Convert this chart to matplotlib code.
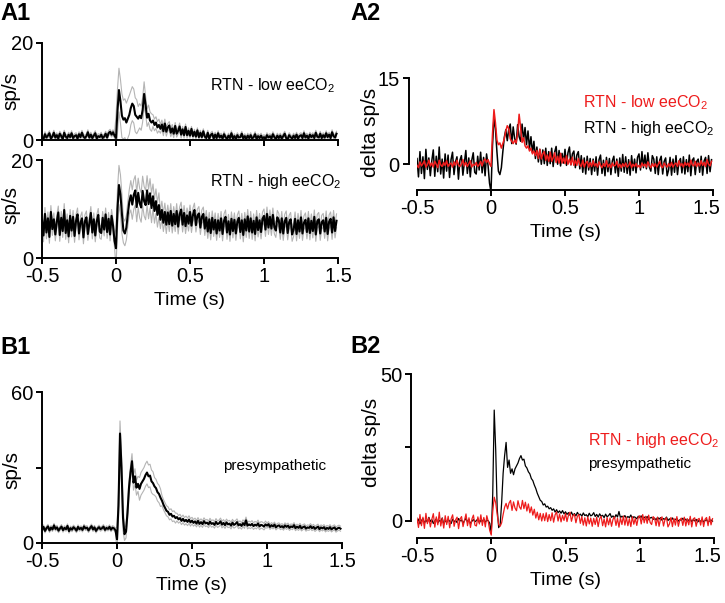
import numpy as np
import matplotlib
matplotlib.use("Agg")
import matplotlib.pyplot as plt
from matplotlib.transforms import ScaledTranslation

plt.rcParams['font.family'] = ['Liberation Sans', 'DejaVu Sans']
plt.rcParams['mathtext.fontset'] = 'custom'
plt.rcParams['mathtext.rm'] = 'Liberation Sans'
plt.rcParams['mathtext.default'] = 'regular'

# time bins (10 ms) from -0.5 s
t = np.arange(200) * 0.01 - 0.5

# A1 - RTN low eeCO2, mean rate (sp/s)
rtn_low = [
    0.6, 0.2, 1.2, 0.5, 0.9, 1.4, 0.3, 0.7, 1.5, 0.5,
    1.0, 0.3, 1.3, 0.8, 0.2, 1.5, 0.7, 0.4, 1.1, 0.6,
    1.4, 0.4, 0.8, 1.0, 0.3, 1.2, 0.6, 1.5, 0.7, 0.4,
    0.8, 1.6, 0.5, 1.1, 0.4, 0.9, 1.4, 0.3, 0.8, 0.6,
    1.1, 0.4, 0.7, 1.3, 0.5, 1.4, 1.7, 1.1, 1.6, 0.9,
    0.4, 6.0, 10.3, 8.0, 5.0, 4.2, 4.5, 3.6, 4.4, 5.2,
    6.6, 7.5, 7.0, 5.2, 4.8, 4.4, 5.0, 4.5, 6.2, 9.5,
    7.2, 4.6, 5.4, 4.0, 3.6, 4.0, 3.1, 3.6, 2.6, 3.1,
    2.3, 3.2, 1.8, 3.4, 1.7, 2.6, 3.0, 1.5, 2.4, 1.3,
    2.9, 1.3, 1.9, 2.8, 1.1, 2.2, 1.0, 2.7, 1.0, 1.9,
    0.9, 2.3, 0.8, 1.7, 0.7, 2.0, 0.6, 1.5, 0.6, 1.8,
    0.7, 0.4, 1.5, 0.3, 1.0, 1.3, 0.3, 1.1, 0.4, 1.4,
    0.5, 0.9, 0.3, 1.2, 0.6, 0.2, 0.9, 0.4, 1.4, 0.3,
    0.8, 0.2, 1.0, 0.5, 0.6, 1.3, 0.3, 0.8, 0.2, 0.9,
    0.4, 1.0, 0.3, 0.6, 1.2, 0.2, 0.8, 0.4, 0.9, 0.3,
    0.6, 0.2, 1.0, 0.5, 0.8, 0.3, 1.2, 0.6, 0.2, 0.9,
    0.4, 0.9, 0.3, 0.8, 1.3, 0.4, 0.2, 1.0, 0.6, 0.3,
    0.9, 0.4, 1.1, 0.3, 0.8, 1.0, 0.4, 1.4, 0.5, 0.9,
    0.3, 1.1, 0.6, 1.0, 0.4, 1.5, 0.7, 0.5, 1.3, 0.4,
    1.0, 0.5, 1.4, 0.6, 1.1, 0.4, 1.6, 0.8, 0.5, 1.3,
]
# SEM per 50 ms
rtn_low_sem = [0.5] * 10 + [4.5, 4.0, 3.5, 2.5, 1.8, 1.2, 0.9, 0.8, 0.7, 0.6] + [0.5] * 20

# A1 - RTN high eeCO2
rtn_high = [
    7.8, 4.6, 9.0, 5.2, 8.1, 4.3, 9.4, 5.9, 7.9, 4.8,
    7.4, 9.3, 4.7, 8.2, 5.5, 9.8, 5.1, 7.7, 4.4, 8.6,
    5.6, 8.4, 4.5, 7.6, 8.9, 5.0, 7.2, 8.1, 4.2, 7.5,
    8.3, 4.9, 7.0, 9.2, 5.2, 7.9, 4.6, 7.5, 8.8, 5.4,
    5.1, 8.2, 5.8, 8.9, 5.3, 8.0, 4.8, 8.6, 6.6, 3.5,
    2.0, 10.0, 14.9, 13.0, 9.0, 5.6, 5.0, 6.2, 9.0, 11.5,
    12.8, 10.9, 12.9, 13.8, 10.4, 13.3, 11.2, 10.3, 13.7, 11.6,
    10.8, 13.8, 11.0, 13.2, 10.2, 12.6, 9.6, 11.6, 8.8, 10.8,
    7.8, 9.8, 7.2, 9.4, 6.8, 9.3, 6.9, 9.6, 6.6, 9.0,
    6.9, 9.6, 6.4, 8.9, 9.9, 6.8, 9.2, 6.5, 8.7, 7.0,
    9.4, 6.6, 8.8, 9.8, 6.7, 8.6, 9.1, 6.2, 8.4, 9.0,
    6.0, 8.3, 5.4, 7.9, 5.1, 8.2, 5.8, 7.8, 5.0, 7.7,
    5.6, 8.1, 4.9, 7.6, 8.4, 5.2, 7.5, 4.8, 8.0, 5.5,
    7.8, 5.0, 7.4, 8.2, 5.3, 7.7, 4.7, 7.9, 5.6, 8.5,
    5.4, 8.1, 5.2, 7.6, 4.9, 8.3, 5.7, 7.7, 5.3, 8.0,
    8.6, 5.8, 9.0, 6.2, 8.4, 6.0, 8.8, 6.3, 5.6, 8.3,
    7.7, 5.2, 8.1, 5.0, 7.5, 8.2, 5.1, 7.3, 7.9, 4.8,
    5.8, 8.0, 4.9, 7.7, 5.4, 8.3, 5.0, 7.2, 7.8, 5.3,
    8.1, 5.1, 7.6, 5.5, 8.4, 4.8, 7.5, 7.9, 5.0, 7.3,
    7.7, 5.4, 8.2, 4.9, 7.4, 8.0, 5.2, 8.3, 5.5, 7.6,
]
rtn_high_sem = [1.3] * 10 + [4.0, 2.5, 3.0, 3.0, 3.0, 2.5, 1.8, 1.5, 1.5, 1.5] + [1.4] * 20

# B1 - presympathetic
presymp = [
    5.2, 6.4, 4.8, 5.9, 6.6, 5.0, 6.1, 5.4, 7.0, 5.6,
    6.2, 4.9, 5.8, 6.5, 5.1, 6.0, 5.5, 6.8, 4.7, 5.9,
    5.3, 6.3, 5.7, 4.9, 6.4, 5.5, 6.0, 5.2, 6.6, 5.8,
    6.1, 5.0, 5.9, 6.7, 5.4, 6.2, 4.8, 5.7, 6.3, 5.5,
    5.9, 6.5, 5.2, 6.0, 5.6, 6.4, 5.3, 6.1, 5.8, 5.0,
    1.5, 15.0, 43.5, 30.0, 10.0, 3.5, 4.5, 12.0, 22.0, 28.0,
    32.5, 24.0, 26.5, 22.0, 23.5, 21.5, 23.5, 24.5, 25.5, 27.0,
    28.0, 26.5, 26.8, 24.5, 23.8, 22.5, 21.8, 20.2, 19.5, 18.0,
    16.8, 15.2, 14.0, 12.8, 12.4, 11.2, 11.6, 10.5, 10.8, 9.9,
    10.3, 9.4, 9.9, 8.8, 9.6, 8.6, 9.2, 8.4, 9.3, 8.2,
    8.9, 8.0, 8.6, 7.7, 8.8, 7.6, 8.3, 7.5, 8.7, 7.8,
    8.1, 7.4, 8.5, 7.6, 7.9, 7.2, 8.4, 7.5, 7.8, 8.6,
    7.3, 8.0, 7.1, 8.2, 7.4, 7.7, 6.9, 8.1, 7.2, 7.6,
    8.3, 7.0, 7.5, 6.8, 7.9, 7.1, 9.0, 6.9, 7.4, 7.0,
    7.6, 6.7, 7.3, 6.9, 7.8, 6.6, 7.2, 7.0, 6.5, 7.4,
    6.9, 7.5, 6.4, 7.1, 6.6, 7.3, 6.2, 6.8, 7.0, 6.3,
    6.7, 6.1, 7.0, 6.4, 6.9, 6.0, 6.6, 6.3, 7.1, 5.9,
    6.5, 6.0, 6.8, 5.8, 6.3, 6.6, 5.7, 6.2, 6.0, 6.7,
    5.9, 6.4, 5.6, 6.1, 6.5, 5.5, 6.2, 5.8, 6.3, 5.4,
    6.0, 5.6, 6.3, 5.4, 5.9, 6.2, 5.3, 5.8, 6.1, 5.7,
]
presymp_sem = [0.8] * 10 + [5.0, 2.5, 3.0, 4.5, 4.5, 3.5, 2.0, 2.0, 1.5, 1.5] + [1.3] * 10 + [1.0] * 10

rtn_low = np.array(rtn_low)
rtn_high = np.array(rtn_high)
presymp = np.array(presymp)

# delta = rate minus pre-stimulus baseline
pre = t < -0.05
d_low = rtn_low - rtn_low[pre].mean()
d_high = rtn_high - rtn_high[pre].mean()
d_pre = presymp - presymp[pre].mean()

W, H = 725, 603
fig = plt.figure(figsize=(W / 100, H / 100), dpi=100)


def box(x0, x1, y_top, y_bot):
    return [x0 / W, 1 - y_bot / H, (x1 - x0) / W, (y_bot - y_top) / H]


def style(ax):
    for s in ['top', 'right']:
        ax.spines[s].set_visible(False)
    for s in ['left', 'bottom']:
        ax.spines[s].set_linewidth(1.4)
    ax.tick_params(width=1.4, length=4.5, labelsize=14.5, pad=2)
    ax.set_xlim(-0.5, 1.5)
    ax.set_xticks([-0.5, 0, 0.5, 1, 1.5])
    ax.set_xticklabels(['-0.5', '0', '0.5', '1', '1.5'])


def nudge_last(ax):
    # keep the last x tick label inside the figure
    lab = ax.get_xticklabels()[-1]
    lab.set_transform(lab.get_transform() + ScaledTranslation(-5 / 72, 0, fig.dpi_scale_trans))


def mean_sem(ax, m, sem):
    s = np.repeat(sem, 5)
    ax.plot(t, m + s, color='#b4b4b4', lw=0.8)
    ax.plot(t, m - s, color='#b4b4b4', lw=0.8)
    ax.plot(t, m, color='black', lw=1.5)


def ftext(x, y, s, **kw):
    fig.text(x / W, 1 - y / H, s, va='center', **kw)


# A1 top
ax = fig.add_axes(box(42, 338, 43, 140))
style(ax)
mean_sem(ax, rtn_low, rtn_low_sem)
ax.set_ylim(0, 20)
ax.set_yticks([0, 20])
ax.tick_params(axis='x', labelbottom=False)
ax.set_ylabel('sp/s', fontsize=15)
ax.yaxis.set_label_coords(-0.074, 0.505)
ftext(210, 86, 'RTN - low eeCO$_2$', fontsize=11.5)

# A1 bottom
ax = fig.add_axes(box(42, 338, 160, 258))
style(ax)
mean_sem(ax, rtn_high, rtn_high_sem)
ax.set_ylim(0, 20)
ax.set_yticks([0, 20])
ax.set_ylabel('sp/s', fontsize=15)
ax.yaxis.set_label_coords(-0.074, 0.54)
ax.set_xlabel('Time (s)', fontsize=14, labelpad=4)
ftext(210, 181, 'RTN - high eeCO$_2$', fontsize=11.5)

# A2
ax = fig.add_axes(box(417, 713, 78, 190))
style(ax)
ax.plot(t, d_high, color='black', lw=1.1)
ax.plot(t, d_low, color='#ee1c1c', lw=1.1)
ax.set_ylim(-4.5, 15)
ax.set_yticks([0, 15])
ax.spines['left'].set_bounds(0, 15)
ax.spines['left'].set_position(('outward', 6))
ax.set_ylabel('delta sp/s', fontsize=15)
ax.yaxis.set_label_coords(-0.125, 0.518)
ax.set_xlabel('Time (s)', fontsize=14, labelpad=4)
nudge_last(ax)
ftext(583, 103, 'RTN - low eeCO$_2$', fontsize=11.5, color='#ee1c1c')
ftext(583, 128, 'RTN - high eeCO$_2$', fontsize=11.5)

# B1
ax = fig.add_axes(box(42, 342, 392, 543))
style(ax)
mean_sem(ax, presymp, presymp_sem)
ax.set_ylim(0, 60)
ax.set_yticks([0, 30, 60])
ax.set_yticklabels(['0', '', '60'])
ax.set_ylabel('sp/s', fontsize=15)
ax.yaxis.set_label_coords(-0.07, 0.483)
ax.set_xlabel('Time (s)', fontsize=14, labelpad=4)
ftext(223, 466, 'presympathetic', fontsize=11)

# B2
ax = fig.add_axes(box(417, 714, 374, 538))
style(ax)
ax.plot(t, d_pre, color='black', lw=0.9)
ax.plot(t, d_high, color='#ee1c1c', lw=0.9)
ax.set_ylim(-5.8, 50)
ax.set_yticks([0, 25, 50])
ax.set_yticklabels(['0', '', '50'])
ax.spines['left'].set_bounds(0, 50)
ax.spines['left'].set_position(('outward', 4))
ax.set_ylabel('delta sp/s', fontsize=15)
ax.yaxis.set_label_coords(-0.122, 0.585)
ax.set_xlabel('Time (s)', fontsize=14, labelpad=4)
nudge_last(ax)
ftext(588, 441, 'RTN - high eeCO$_2$', fontsize=11.5, color='#ee1c1c')
ftext(588, 464, 'presympathetic', fontsize=11)

# panel letters
for x, y, s in [(0, 13, 'A1'), (350, 13, 'A2'), (0, 347, 'B1'), (350, 346, 'B2')]:
    ftext(x, y, s, fontsize=17, fontweight='bold')

fig.savefig('out.png', dpi=100)
